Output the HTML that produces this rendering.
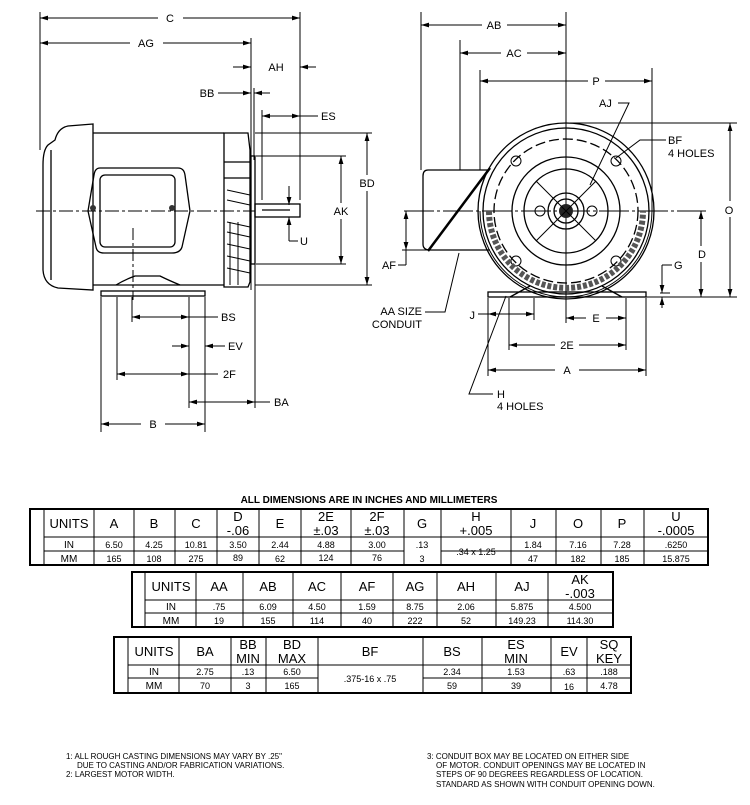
<!DOCTYPE html>
<html><head><meta charset="utf-8"><style>
html,body{margin:0;padding:0;background:#fff;width:750px;height:805px;overflow:hidden}
svg{display:block}
text{font-family:"Liberation Sans",Arial,sans-serif;fill:#000}
.d{stroke:#000;stroke-width:1;fill:none}
.t{stroke:#000;stroke-width:1.3;fill:none}
.lb{font-size:11px}
.th{font-size:13px}
.tc{font-size:9px}
.nt{font-size:8px}
</style></head><body>
<svg width="750" height="805" viewBox="0 0 750 805" xmlns="http://www.w3.org/2000/svg">
<defs>
<marker id="a" viewBox="0 0 10 6" refX="10" refY="3" markerWidth="8" markerHeight="5" orient="auto-start-reverse" markerUnits="userSpaceOnUse"><path d="M0,0L10,3L0,6z" fill="#000"/></marker>
</defs>

<!-- ===== LEFT VIEW ===== -->
<g class="d">
<!-- extension lines -->
<line x1="40" y1="12" x2="40" y2="150"/>
<line x1="300" y1="12" x2="300" y2="200"/>
<line x1="251" y1="38" x2="251" y2="290"/>
<line x1="254" y1="88" x2="254" y2="160"/>
<line x1="262" y1="110" x2="262" y2="200"/>
<!-- C -->
<line x1="40" y1="18" x2="158" y2="18" marker-start="url(#a)"/>
<line x1="183" y1="18" x2="300" y2="18" marker-end="url(#a)"/>
<!-- AG -->
<line x1="40" y1="43" x2="130" y2="43" marker-start="url(#a)"/>
<line x1="163" y1="43" x2="251" y2="43" marker-end="url(#a)"/>
<!-- AH -->
<line x1="233" y1="67" x2="251" y2="67" marker-end="url(#a)"/>
<line x1="316" y1="67" x2="300" y2="67" marker-end="url(#a)"/>
<!-- BB -->
<line x1="218" y1="93" x2="251" y2="93" marker-end="url(#a)"/>
<line x1="270" y1="93" x2="254" y2="93" marker-end="url(#a)"/>
<!-- ES -->
<line x1="262" y1="116" x2="300" y2="116" marker-start="url(#a)" marker-end="url(#a)"/>
<line x1="300" y1="116" x2="318" y2="116"/>
<!-- BD -->
<line x1="255" y1="133" x2="372" y2="133"/>
<line x1="255" y1="285" x2="372" y2="285"/>
<line x1="367" y1="133" x2="367" y2="175" marker-start="url(#a)"/>
<line x1="367" y1="191" x2="367" y2="285" marker-end="url(#a)"/>
<!-- AK -->
<line x1="256" y1="156" x2="346" y2="156"/>
<line x1="256" y1="264" x2="346" y2="264"/>
<line x1="341" y1="156" x2="341" y2="203" marker-start="url(#a)"/>
<line x1="341" y1="219" x2="341" y2="264" marker-end="url(#a)"/>
<!-- U -->
<line x1="289" y1="186" x2="289" y2="205" marker-end="url(#a)"/>
<line x1="289" y1="241" x2="289" y2="217" marker-end="url(#a)"/>
<line x1="289" y1="241" x2="298" y2="241"/>
<!-- centerline -->
<line x1="36" y1="211" x2="255" y2="211" stroke-dasharray="14,3,3,3"/>
<line x1="133" y1="228" x2="133" y2="300" stroke-dasharray="12,3,3,3"/>
</g>
<text class="lb" x="170" y="22" text-anchor="middle">C</text>
<text class="lb" x="146" y="47" text-anchor="middle">AG</text>
<text class="lb" x="276" y="71" text-anchor="middle">AH</text>
<text class="lb" x="207" y="97" text-anchor="middle">BB</text>
<text class="lb" x="321" y="120">ES</text>
<text class="lb" x="367" y="187" text-anchor="middle">BD</text>
<text class="lb" x="341" y="215" text-anchor="middle">AK</text>
<text class="lb" x="300" y="245">U</text>

<!-- motor body -->
<g class="t">
<path d="M93,124 L68,126 Q58,128 55,140 L48,145 Q43,150 43,165 L43,270 Q44,285 58,288 L93,290 Z"/>
<line x1="51" y1="150" x2="51" y2="280"/>
<line x1="93" y1="133" x2="224" y2="133"/>
<line x1="93" y1="285" x2="224" y2="285"/>
<path d="M224,133 L248,133 L250,150 L250,282 L248,287 L224,287 Z"/>
<line x1="224" y1="162" x2="250" y2="162"/>
<line x1="224" y1="178" x2="250" y2="178"/>
<rect x="251" y="156" width="4" height="108"/>
<rect x="255" y="204" width="45" height="13"/>
<line x1="262" y1="210" x2="290" y2="210"/>
<path d="M100,168 L178,168 Q184,168 185,175 L190,211 L182,247 Q180,253 172,253 L104,253 Q97,253 96,247 L88,211 L94,175 Q95,168 100,168 Z"/>
<rect x="100" y="175" width="75" height="72" rx="5"/>
<path d="M116,285 Q124,280 135,276 L160,276 Q168,280 180,285"/>
<rect x="101" y="291" width="104" height="5"/>
</g>
<circle cx="93" cy="208" r="3" fill="#333"/>
<circle cx="172" cy="208" r="3" fill="#333"/>
<g class="d">
<line x1="227" y1="190" x2="250" y2="195"/><line x1="227" y1="200" x2="250" y2="205"/>
<line x1="227" y1="222" x2="250" y2="227"/><line x1="227" y1="232" x2="250" y2="237"/>
<line x1="227" y1="244" x2="250" y2="249"/><line x1="227" y1="256" x2="250" y2="261"/>
<line x1="227" y1="268" x2="250" y2="273"/>
<line x1="230" y1="222" x2="230" y2="285"/><line x1="238" y1="222" x2="238" y2="285"/>
</g>

<!-- left bottom dims -->
<g class="d">
<line x1="101" y1="297" x2="101" y2="432"/>
<line x1="117" y1="297" x2="117" y2="380"/>
<line x1="132" y1="297" x2="132" y2="322"/>
<line x1="189" y1="297" x2="189" y2="408"/>
<line x1="205" y1="297" x2="205" y2="432"/>
<line x1="255" y1="264" x2="255" y2="408"/>
<line x1="132" y1="317" x2="189" y2="317" marker-start="url(#a)" marker-end="url(#a)"/>
<line x1="189" y1="317" x2="218" y2="317"/>
<line x1="172" y1="346" x2="189" y2="346" marker-end="url(#a)"/>
<line x1="225" y1="346" x2="205" y2="346" marker-end="url(#a)"/>
<line x1="117" y1="374" x2="189" y2="374" marker-start="url(#a)" marker-end="url(#a)"/>
<line x1="189" y1="374" x2="218" y2="374"/>
<line x1="189" y1="402" x2="255" y2="402" marker-start="url(#a)" marker-end="url(#a)"/>
<line x1="255" y1="402" x2="270" y2="402"/>
<line x1="101" y1="424" x2="141" y2="424" marker-start="url(#a)"/>
<line x1="165" y1="424" x2="205" y2="424" marker-end="url(#a)"/>
</g>
<text class="lb" x="221" y="321">BS</text>
<text class="lb" x="228" y="350">EV</text>
<text class="lb" x="223" y="378">2F</text>
<text class="lb" x="274" y="406">BA</text>
<text class="lb" x="153" y="428" text-anchor="middle">B</text>

<!-- ===== RIGHT VIEW ===== -->
<g class="d">
<line x1="421" y1="12" x2="421" y2="170"/>
<line x1="460" y1="40" x2="460" y2="170"/>
<line x1="480" y1="70" x2="480" y2="170"/>
<line x1="566" y1="12" x2="566" y2="300"/>
<line x1="652" y1="68" x2="652" y2="211"/>
<line x1="421" y1="25" x2="482" y2="25" marker-start="url(#a)"/>
<line x1="507" y1="25" x2="566" y2="25" marker-end="url(#a)"/>
<line x1="460" y1="53" x2="501" y2="53" marker-start="url(#a)"/>
<line x1="527" y1="53" x2="566" y2="53" marker-end="url(#a)"/>
<line x1="480" y1="81" x2="588" y2="81" marker-start="url(#a)"/>
<line x1="605" y1="81" x2="652" y2="81" marker-end="url(#a)"/>
<!-- O -->
<line x1="570" y1="123" x2="737" y2="123"/>
<line x1="640" y1="297" x2="737" y2="297"/>
<line x1="730" y1="123" x2="730" y2="201" marker-start="url(#a)"/>
<line x1="730" y1="217" x2="730" y2="297" marker-end="url(#a)"/>
<!-- D -->
<line x1="404" y1="211" x2="706" y2="211" stroke-dasharray="30,3,3,3"/>
<line x1="701" y1="211" x2="701" y2="246" marker-start="url(#a)"/>
<line x1="701" y1="262" x2="701" y2="297" marker-end="url(#a)"/>
<!-- G -->
<line x1="660" y1="293" x2="670" y2="293"/>
<line x1="662" y1="265" x2="662" y2="293" marker-end="url(#a)"/>
<line x1="662" y1="308" x2="662" y2="297" marker-end="url(#a)"/>
<line x1="662" y1="265" x2="672" y2="265"/>
<!-- AF -->
<line x1="402" y1="250" x2="430" y2="250"/>
<line x1="406" y1="211" x2="406" y2="250" marker-start="url(#a)" marker-end="url(#a)"/>
<line x1="398" y1="265" x2="406" y2="265"/><line x1="406" y1="250" x2="406" y2="265"/>
<!-- AA leader -->
<polyline points="459,253 445,312 425,312"/>
<!-- AJ leader -->
<polyline points="618,103 629,103 590,185"/>
<!-- BF leader -->
<polyline points="666,140 640,140 616,158"/>
</g>
<line x1="490" y1="168" x2="428" y2="251" stroke="#000" stroke-width="2.5"/>
<text class="lb" x="494" y="29" text-anchor="middle">AB</text>
<text class="lb" x="514" y="57" text-anchor="middle">AC</text>
<text class="lb" x="596" y="85" text-anchor="middle">P</text>
<text class="lb" x="599" y="107">AJ</text>
<text class="lb" x="668" y="144">BF</text>
<text class="lb" x="668" y="157">4 HOLES</text>
<text class="lb" x="729" y="214" text-anchor="middle">O</text>
<text class="lb" x="702" y="258" text-anchor="middle">D</text>
<text class="lb" x="674" y="269">G</text>
<text class="lb" x="396" y="269" text-anchor="end">AF</text>
<text class="lb" x="422" y="315" text-anchor="end">AA SIZE</text>
<text class="lb" x="422" y="328" text-anchor="end">CONDUIT</text>

<!-- front end view -->
<g class="t">
<path d="M488,170 L428,170 Q423,170 423,176 L423,244 Q423,250 430,250 L490,250"/>
<circle cx="566" cy="211" r="88"/>
<circle cx="566" cy="211" r="83"/>
<circle cx="566" cy="211" r="72" stroke-dasharray="10,4"/>
<circle cx="566" cy="211" r="54"/>
<circle cx="566" cy="211" r="42"/>
<circle cx="566" cy="211" r="18"/>
<circle cx="566" cy="211" r="12"/>
<path d="M510,297 L530,286 M622,297 L602,286"/>
<rect x="488" y="292" width="158" height="5"/>
</g>
<circle cx="566" cy="211" r="7" fill="#222"/>
<g class="d">
<circle cx="540" cy="211" r="5"/><circle cx="592" cy="211" r="5"/>
<circle cx="516" cy="161" r="5"/><circle cx="616" cy="161" r="5"/>
<circle cx="516" cy="261" r="5"/><circle cx="616" cy="261" r="5"/>
<line x1="536" y1="181" x2="596" y2="241"/><line x1="596" y1="181" x2="536" y2="241"/>
<path d="M489,211 A77,77 0 0 0 643,211" stroke-dasharray="4,2" stroke-width="6" stroke="#555"/>
<path d="M480,211 A86,86 0 0 0 652,211"/>
</g>

<!-- right bottom dims -->
<g class="d">
<line x1="488" y1="298" x2="488" y2="376"/>
<line x1="509" y1="298" x2="509" y2="350"/>
<line x1="534" y1="298" x2="534" y2="320"/>
<line x1="566" y1="298" x2="566" y2="323"/>
<line x1="626" y1="298" x2="626" y2="350"/>
<line x1="646" y1="298" x2="646" y2="376"/>
<line x1="478" y1="314" x2="534" y2="314" marker-end="url(#a)"/>
<line x1="488" y1="314" x2="500" y2="314" marker-start="url(#a)"/>
<line x1="566" y1="318" x2="586" y2="318" marker-start="url(#a)"/>
<line x1="606" y1="318" x2="626" y2="318" marker-end="url(#a)"/>
<line x1="509" y1="345" x2="555" y2="345" marker-start="url(#a)"/>
<line x1="579" y1="345" x2="626" y2="345" marker-end="url(#a)"/>
<line x1="488" y1="370" x2="555" y2="370" marker-start="url(#a)"/>
<line x1="579" y1="370" x2="646" y2="370" marker-end="url(#a)"/>
<polyline points="506,296 469,394 493,394"/>
</g>
<text class="lb" x="475" y="319" text-anchor="end">J</text>
<text class="lb" x="596" y="322" text-anchor="middle">E</text>
<text class="lb" x="567" y="349" text-anchor="middle">2E</text>
<text class="lb" x="567" y="374" text-anchor="middle">A</text>
<text class="lb" x="497" y="398">H</text>
<text class="lb" x="497" y="410">4 HOLES</text>

<!-- ===== TABLES ===== -->
<text x="369" y="503" text-anchor="middle" style="font-size:10px;font-weight:bold">ALL DIMENSIONS ARE IN INCHES AND MILLIMETERS</text>

<!-- Table 1 -->
<g class="d">
<rect x="30" y="509" width="678" height="56" stroke-width="2"/>
<line x1="44" y1="509" x2="44" y2="565"/>
<line x1="44" y1="537" x2="708" y2="537"/>
<line x1="44" y1="551" x2="404" y2="551"/><line x1="441" y1="551" x2="708" y2="551"/>
<line x1="94" y1="509" x2="94" y2="565"/><line x1="134" y1="509" x2="134" y2="565"/>
<line x1="175" y1="509" x2="175" y2="565"/><line x1="217" y1="509" x2="217" y2="565"/>
<line x1="259" y1="509" x2="259" y2="565"/><line x1="301" y1="509" x2="301" y2="565"/>
<line x1="351" y1="509" x2="351" y2="565"/><line x1="404" y1="509" x2="404" y2="565"/>
<line x1="441" y1="509" x2="441" y2="565"/><line x1="511" y1="509" x2="511" y2="565"/>
<line x1="556" y1="509" x2="556" y2="565"/><line x1="601" y1="509" x2="601" y2="565"/>
<line x1="644" y1="509" x2="644" y2="565"/>
</g>
<g class="th" text-anchor="middle">
<text x="69" y="528">UNITS</text><text x="114" y="528">A</text><text x="154" y="528">B</text><text x="196" y="528">C</text>
<text x="238" y="521">D</text><text x="238" y="535">-.06</text>
<text x="280" y="528">E</text>
<text x="326" y="521">2E</text><text x="326" y="535">±.03</text>
<text x="377" y="521">2F</text><text x="377" y="535">±.03</text>
<text x="422" y="528">G</text>
<text x="476" y="521">H</text><text x="476" y="535">+.005</text>
<text x="533" y="528">J</text><text x="578" y="528">O</text><text x="622" y="528">P</text>
<text x="676" y="521">U</text><text x="676" y="535">-.0005</text>
</g>
<g class="tc" text-anchor="middle">
<text x="69" y="548" style="font-size:10px">IN</text><text x="114" y="548">6.50</text><text x="154" y="548">4.25</text><text x="196" y="548">10.81</text><text x="238" y="548">3.50</text><text x="280" y="548">2.44</text><text x="326" y="548">4.88</text><text x="377" y="548">3.00</text><text x="422" y="548">.13</text>
<text x="476" y="555">.34 x 1.25</text>
<text x="533" y="548">1.84</text><text x="578" y="548">7.16</text><text x="622" y="548">7.28</text><text x="676" y="548">.6250</text>
<text x="69" y="562" style="font-size:10px">MM</text><text x="114" y="562">165</text><text x="154" y="562">108</text><text x="196" y="562">275</text><text x="238" y="561">89</text><text x="280" y="562">62</text><text x="326" y="561">124</text><text x="377" y="561">76</text><text x="422" y="562">3</text>
<text x="533" y="562">47</text><text x="578" y="562">182</text><text x="622" y="562">185</text><text x="676" y="562">15.875</text>
</g>

<!-- Table 2 -->
<g class="d">
<rect x="132" y="572" width="481" height="55" stroke-width="2"/>
<line x1="145" y1="572" x2="145" y2="627"/>
<line x1="145" y1="600" x2="613" y2="600"/><line x1="145" y1="613" x2="613" y2="613"/>
<line x1="196" y1="572" x2="196" y2="627"/><line x1="243" y1="572" x2="243" y2="627"/>
<line x1="293" y1="572" x2="293" y2="627"/><line x1="341" y1="572" x2="341" y2="627"/>
<line x1="393" y1="572" x2="393" y2="627"/><line x1="437" y1="572" x2="437" y2="627"/>
<line x1="496" y1="572" x2="496" y2="627"/><line x1="548" y1="572" x2="548" y2="627"/>
</g>
<g class="th" text-anchor="middle">
<text x="171" y="591">UNITS</text><text x="219" y="591">AA</text><text x="268" y="591">AB</text><text x="317" y="591">AC</text><text x="367" y="591">AF</text><text x="415" y="591">AG</text><text x="466" y="591">AH</text><text x="522" y="591">AJ</text>
<text x="580" y="584">AK</text><text x="580" y="598">-.003</text>
</g>
<g class="tc" text-anchor="middle">
<text x="171" y="610" style="font-size:10px">IN</text><text x="219" y="610">.75</text><text x="268" y="610">6.09</text><text x="317" y="610">4.50</text><text x="367" y="610">1.59</text><text x="415" y="610">8.75</text><text x="466" y="610">2.06</text><text x="522" y="610">5.875</text><text x="580" y="610">4.500</text>
<text x="171" y="624" style="font-size:10px">MM</text><text x="219" y="624">19</text><text x="268" y="624">155</text><text x="317" y="624">114</text><text x="367" y="624">40</text><text x="415" y="624">222</text><text x="466" y="624">52</text><text x="522" y="624">149.23</text><text x="580" y="624">114.30</text>
</g>

<!-- Table 3 -->
<g class="d">
<rect x="114" y="637" width="517" height="56" stroke-width="2"/>
<line x1="128" y1="637" x2="128" y2="693"/>
<line x1="128" y1="665" x2="631" y2="665"/>
<line x1="128" y1="678" x2="318" y2="678"/><line x1="423" y1="678" x2="631" y2="678"/>
<line x1="179" y1="637" x2="179" y2="693"/><line x1="231" y1="637" x2="231" y2="693"/>
<line x1="266" y1="637" x2="266" y2="693"/><line x1="318" y1="637" x2="318" y2="693"/>
<line x1="423" y1="637" x2="423" y2="693"/><line x1="482" y1="637" x2="482" y2="693"/>
<line x1="551" y1="637" x2="551" y2="693"/><line x1="587" y1="637" x2="587" y2="693"/>
</g>
<g class="th" text-anchor="middle">
<text x="154" y="656">UNITS</text><text x="205" y="656">BA</text>
<text x="248" y="649">BB</text><text x="248" y="663">MIN</text>
<text x="292" y="649">BD</text><text x="292" y="663">MAX</text>
<text x="370" y="656">BF</text><text x="452" y="656">BS</text>
<text x="516" y="649">ES</text><text x="516" y="663">MIN</text>
<text x="569" y="656">EV</text>
<text x="609" y="649">SQ</text><text x="609" y="663">KEY</text>
</g>
<g class="tc" text-anchor="middle">
<text x="154" y="675" style="font-size:10px">IN</text><text x="205" y="675">2.75</text><text x="248" y="675">.13</text><text x="292" y="675">6.50</text>
<text x="370" y="682">.375-16 x .75</text>
<text x="452" y="675">2.34</text><text x="516" y="675">1.53</text><text x="569" y="675">.63</text><text x="609" y="675">.188</text>
<text x="154" y="689" style="font-size:10px">MM</text><text x="205" y="689">70</text><text x="248" y="689">3</text><text x="292" y="689">165</text>
<text x="452" y="689">59</text><text x="516" y="689">39</text><text x="569" y="690">16</text><text x="609" y="689">4.78</text>
</g>

<!-- notes -->
<g class="nt">
<text x="66" y="759">1: ALL ROUGH CASTING DIMENSIONS MAY VARY BY .25"</text>
<text x="77" y="768">DUE TO CASTING AND/OR FABRICATION VARIATIONS.</text>
<text x="66" y="777">2: LARGEST MOTOR WIDTH.</text>
<text x="427" y="759">3: CONDUIT BOX MAY BE LOCATED ON EITHER SIDE</text>
<text x="436" y="768">OF MOTOR. CONDUIT OPENINGS MAY BE LOCATED IN</text>
<text x="436" y="777">STEPS OF 90 DEGREES REGARDLESS OF LOCATION.</text>
<text x="436" y="787">STANDARD AS SHOWN WITH CONDUIT OPENING DOWN.</text>
</g>
</svg>
</body></html>
